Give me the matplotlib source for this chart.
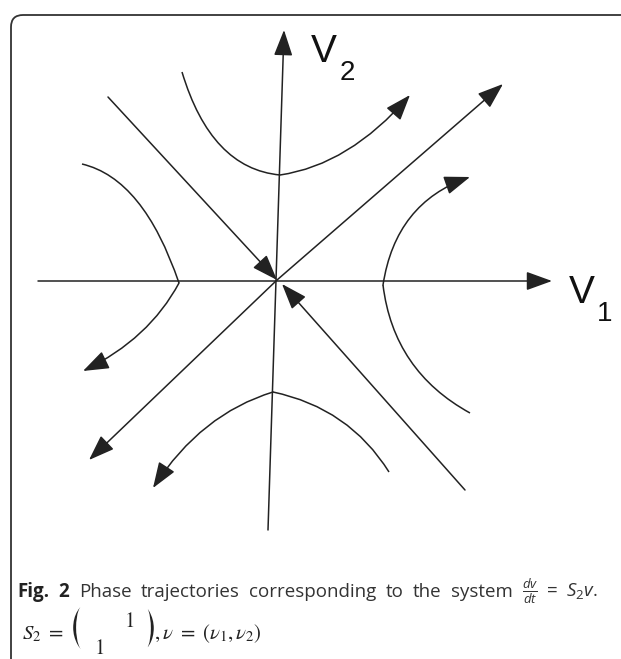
import matplotlib
matplotlib.use("Agg")
import matplotlib.pyplot as plt
import matplotlib.patheffects as pe
from matplotlib.path import Path
from matplotlib.patches import FancyArrowPatch, PathPatch

# Phase plane points (pixel units, origin at the saddle point, v2 upwards)
axis_v1 = [(-239, -1), (275, -1)]
axis_v2 = [(-9, -250), (7, 250)]

# separatrices: stable one heads into the origin, unstable one leaves it
stable_nw = [(-169, 183), (0, 0)]
stable_se = [(188, -210), (5, -4)]
unstable_ne = [(0, 0), (226, 196)]
unstable_sw = [(0, 0), (-188, -180)]

# hyperbolic trajectories: start, point midway, end
left_upper = [(-195, 116), (-140, 79), (-98, -3)]
left_lower = [(-98, -3), (-137, -53), (-194, -91)]
top_left = [(-95, 208), (-56, 134), (3, 105)]
top_right = [(3, 105), (70, 130), (133, 185)]
right_lower = [(193, -133), (133, -80), (106, -5)]
right_upper = [(106, -5), (134, 63), (193, 103)]
bottom_right = [(112, -192), (63, -140), (-4, -112)]
bottom_left = [(-4, -112), (-70, -147), (-124, -208)]

caption_words = ["Phase", "trajectories", "corresponding", "to", "the", "system",
                 r"$\frac{dv}{dt}\ =\ S_2v$."]

LINE = "#222222"
W, H = 621, 659

fig = plt.figure(figsize=(W / 100, H / 100), dpi=100)

# frame + caption axes in pixel coordinates
fax = fig.add_axes([0, 0, 1, 1])
fax.set_xlim(0, W)
fax.set_ylim(H, 0)
fax.axis("off")

# phase plane axes
ax = fig.add_axes([0, 0, 1, 1])
ax.set_xlim(-277, W - 277)
ax.set_ylim(280 - H, 280)
ax.axis("off")

head = "-|>,head_length=16,head_width=5.8"


def arrow(p, q):
    a = FancyArrowPatch(p, q, arrowstyle=head, mutation_scale=1,
                        shrinkA=0, shrinkB=0, lw=1.1, color=LINE,
                        transform=ax.transData)
    ax.add_patch(a)


def branch(pts, tip=False):
    # quadratic bezier passing through the middle point
    (x0, y0), (xm, ym), (x2, y2) = pts
    cx = 2 * xm - (x0 + x2) / 2
    cy = 2 * ym - (y0 + y2) / 2
    path = Path([(x0, y0), (cx, cy), (x2, y2)],
                [Path.MOVETO, Path.CURVE3, Path.CURVE3])
    if tip:
        ax.add_patch(FancyArrowPatch(path=path, arrowstyle=head,
                                     mutation_scale=1, lw=1.1, color=LINE,
                                     transform=ax.transData))
    else:
        ax.add_patch(PathPatch(path, fill=False, lw=1.1, ec=LINE,
                               transform=ax.transData))


arrow(*axis_v1)
arrow(*axis_v2)
arrow(*stable_nw)
arrow(*stable_se)
arrow(*unstable_ne)
arrow(*unstable_sw)

branch(left_upper)
branch(left_lower, tip=True)
branch(top_left)
branch(top_right, tip=True)
branch(right_lower)
branch(right_upper, tip=True)
branch(bottom_right)
branch(bottom_left, tip=True)

# axis names
lab = dict(family="Liberation Sans", color="#111111", va="baseline")
fax.text(311, 62, "V", fontsize=28, **lab)
fax.text(340, 80, "2", fontsize=20, **lab)
fax.text(569, 303, "V", fontsize=28, **lab)
fax.text(597, 321, "1", fontsize=20, **lab)

# rounded frame on the top and left sides
frame = Path([(11, H), (11, 27), (11, 15), (23, 15), (W, 15)],
             [Path.MOVETO, Path.LINETO, Path.CURVE3, Path.CURVE3, Path.LINETO])
fax.add_patch(PathPatch(frame, fill=False, lw=1.3, ec="#333333"))

# caption, first line justified between the frame and the right margin
plt.rcParams["mathtext.fontset"] = "custom"
plt.rcParams["mathtext.rm"] = "Open Sans"
plt.rcParams["mathtext.it"] = "Open Sans:italic"
renderer = fig.canvas.get_renderer()
inv = fax.transData.inverted()


def width(t):
    bb = t.get_window_extent(renderer)
    (x0, _), (x1, _) = inv.transform([(bb.x0, bb.y0), (bb.x1, bb.y0)])
    return x1 - x0


cap = dict(family="Open Sans", fontsize=13.5, va="baseline",
           math_fontfamily="custom")
base1 = 597
pieces = [fax.text(17, base1, "Fig.", fontweight="bold", color="#222222", **cap),
          fax.text(17, base1, "2", fontweight="bold", color="#222222", **cap)]
pieces += [fax.text(17, base1, w, color="#333333", **cap) for w in caption_words]
widths = [width(t) for t in pieces]
gap = (598 - 17 - sum(widths)) / (len(pieces) - 1)
x = 17
for t, w in zip(pieces, widths):
    t.set_x(x)
    x += w + gap

# second line: the matrix S2 and the state vector
base2 = 639
m = dict(math_fontfamily="stix", color="#222222", va="baseline")
serif = dict(family="STIXGeneral", color="#222222")
fax.text(22, base2, r"$S_2\ =$", fontsize=15, **m)
# tall thin brackets: large glyphs eroded by a white outline
thin = [pe.Normal(), pe.Stroke(linewidth=2.3, foreground="white")]
fax.text(80, 629, "(", fontsize=51, ha="center", va="center",
         path_effects=thin, **serif)
fax.text(147, 629, ")", fontsize=51, ha="center", va="center",
         path_effects=thin, **serif)
fax.text(125, 627, "1", fontsize=15, va="baseline", **serif)
fax.text(95, 654, "1", fontsize=15, va="baseline", **serif)
fax.text(154, base2, r"$,\nu\ =\ (\nu_1, \nu_2)$", fontsize=15, **m)

fig.savefig("out.png", dpi=100)
